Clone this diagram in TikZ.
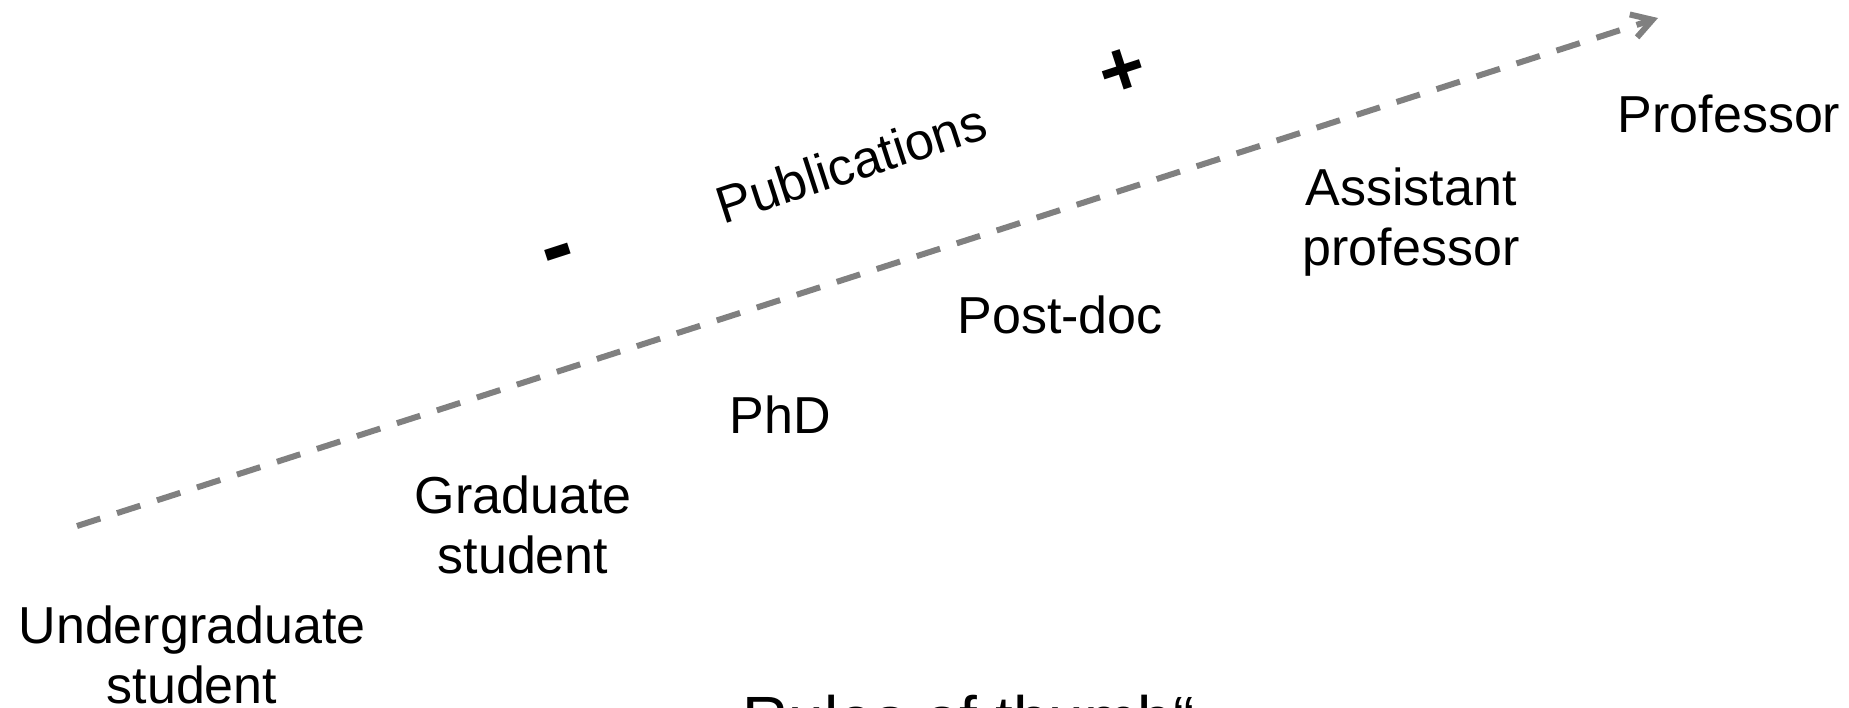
\documentclass[tikz,border=0pt]{standalone}
\usepackage{fontspec}
\setmainfont{Liberation Sans}
\usetikzlibrary{arrows.meta}
\definecolor{arrowgray}{RGB}{128,128,128}
\tikzset{
  lbl/.style={anchor=base, align=center, inner sep=0pt, font=\fontsize{52}{60}\selectfont},
  axislbl/.style={anchor=center, inner sep=0pt, rotate=18, font=\fontsize{52}{60}\selectfont},
  signlbl/.style={anchor=center, inner sep=0pt, rotate=18, font=\bfseries\fontsize{78}{90}\selectfont},
  progress/.style={draw=arrowgray, line width=6pt, dash pattern=on 24.5pt off 17.5pt,
    -{Straight Barb[length=20pt,width=24pt]}}
}
\begin{document}
\begin{tikzpicture}[x=1pt,y=-1pt]
\useasboundingbox (0,0) rectangle (1849,707);
\coordinate (start) at (77,526);
\coordinate (tip) at (1658,18);
\draw[progress] (start) -- (tip);
\node[lbl] (prof) at (1729,132) {Professor};
\node[lbl] (asst) at (1411,265) {Assistant\\professor};
\node[lbl] (postdoc) at (1060,333) {Post-doc};
\node[lbl] (phd) at (780,433) {PhD};
\node[lbl] (grad) at (523,573) {Graduate\\student};
\node[lbl] (ugrad) at (192,703) {Undergraduate\\student};
\node[axislbl] (pub) at (851,163) {Publications};
\node[signlbl, font=\bfseries\fontsize{95}{100}\selectfont] (minus) at (561,261) {-};
\node[signlbl] (plus) at (1123,73) {+};
\node[anchor=base, inner sep=0pt, font=\fontsize{64}{72}\selectfont] (rules) at (958,741) {„Rules of thumb“};
\end{tikzpicture}
\end{document}
